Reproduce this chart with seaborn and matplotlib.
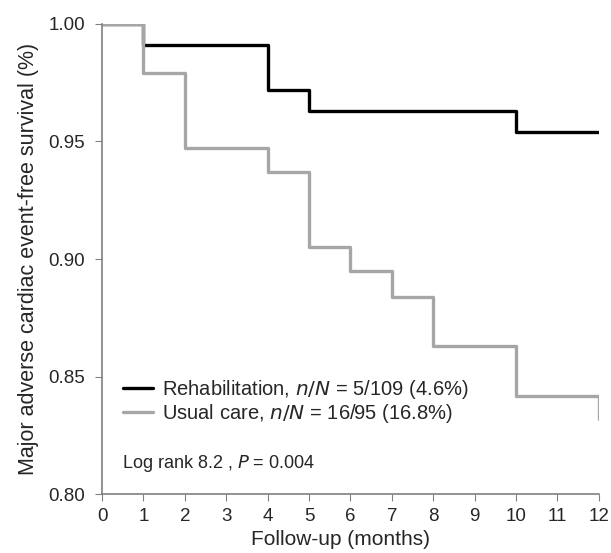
import matplotlib
matplotlib.use("Agg")
import matplotlib.pyplot as plt
import seaborn as sns
import pandas as pd

# Kaplan-Meier steps
rehab_months = [0, 1, 4, 5, 10, 12]
rehab_surv = [1.0, 0.991, 0.972, 0.963, 0.954, 0.954]
usual_months = [0, 1, 2, 4, 5, 6, 7, 8, 10, 12]
usual_surv = [1.0, 0.979, 0.947, 0.937, 0.905, 0.895, 0.884, 0.863, 0.842, 0.832]

x_ticks = list(range(0, 13))
y_ticks = [0.80, 0.85, 0.90, 0.95, 1.00]

sns.set_style("white")
plt.rcParams['font.family'] = ['Liberation Sans', 'DejaVu Sans']

fig = plt.figure(figsize=(6.11, 5.53), dpi=100)
ax = fig.add_axes([0.167, 0.106, 0.813, 0.851])

rehab = pd.DataFrame({"month": rehab_months, "surv": rehab_surv})
usual = pd.DataFrame({"month": usual_months, "surv": usual_surv})

sns.lineplot(data=rehab, x="month", y="surv", drawstyle="steps-post",
             color="black", linewidth=2.4, ax=ax,
             label="Rehabilitation, $\\it{n/N}$ = 5/109 (4.6%)")
sns.lineplot(data=usual, x="month", y="surv", drawstyle="steps-post",
             color="#a6a6a6", linewidth=2.4, ax=ax,
             label="Usual care, $\\it{n/N}$ = 16/95 (16.8%)")

ax.set_xlim(0, 12)
ax.set_ylim(0.80, 1.00)
ax.set_xticks(x_ticks)
ax.set_yticks(y_ticks)
ax.set_yticklabels([f"{v:.2f}" for v in y_ticks])
ax.tick_params(axis="both", direction="out", length=5, color="#808080",
               labelsize=13.5, bottom=True, left=True)
ax.tick_params(axis="y", pad=7)
ax.tick_params(axis="x", pad=5)
for s in ["top", "right"]:
    ax.spines[s].set_visible(False)
for s in ["left", "bottom"]:
    ax.spines[s].set_color("#808080")
    ax.spines[s].set_linewidth(1.2)

ax.set_xlabel("Follow-up (months)", fontsize=15, labelpad=3)
ax.xaxis.set_label_coords(0.481, -0.075)
ax.set_ylabel("Major adverse cardiac event-free survival (%)", fontsize=15.5,
              labelpad=7)

leg = ax.legend(loc="center left", bbox_to_anchor=(0.026, 0.197), frameon=False,
                fontsize=14.5, handlelength=1.5, handletextpad=0.45,
                labelspacing=0.05, borderaxespad=0.0)
ax.text(0.04, 0.066, "Log rank 8.2 , $\\it{P}$ = 0.004", transform=ax.transAxes,
        fontsize=13, va="center")

fig.savefig("out.png", dpi=100)
